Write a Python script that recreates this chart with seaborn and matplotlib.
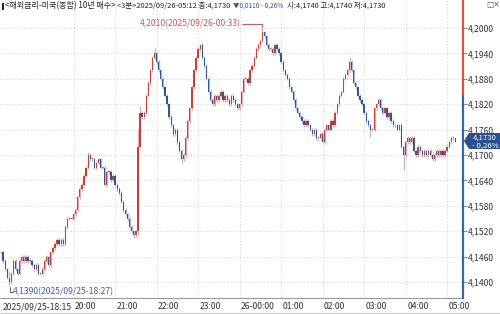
import numpy as np
import pandas as pd
import seaborn as sns
import matplotlib
matplotlib.use("Agg")
import matplotlib.pyplot as plt
import matplotlib.transforms as mtrans
from matplotlib.patches import Polygon, Rectangle
from matplotlib.lines import Line2D

# ---------------- data ----------------
closes = [
    4.147, 4.145, 4.143, 4.141, 4.140, 4.142, 4.145, 4.143, 4.142, 4.145,
    4.146, 4.145, 4.146, 4.145, 4.145, 4.144, 4.143, 4.144, 4.142, 4.142,
    4.143, 4.145, 4.146, 4.144, 4.147, 4.148, 4.149, 4.150, 4.149, 4.150,
    4.149, 4.153, 4.155, 4.155, 4.155, 4.156, 4.157, 4.160, 4.162, 4.163,
    4.165, 4.167, 4.170, 4.169, 4.169, 4.167, 4.168, 4.169, 4.167, 4.167,
    4.163, 4.166, 4.166, 4.164, 4.165, 4.163, 4.162, 4.161, 4.159, 4.157,
    4.156, 4.155, 4.153, 4.152, 4.151, 4.152, 4.172, 4.180, 4.179, 4.180,
    4.184, 4.187, 4.190, 4.193, 4.194, 4.192, 4.190, 4.188, 4.186, 4.184,
    4.182, 4.179, 4.177, 4.175, 4.176, 4.173, 4.171, 4.169, 4.170, 4.174,
    4.178, 4.181, 4.186, 4.190, 4.193, 4.195, 4.196, 4.193, 4.191, 4.188,
    4.185, 4.183, 4.182, 4.184, 4.183, 4.184, 4.185, 4.183, 4.184, 4.183,
    4.182, 4.184, 4.183, 4.182, 4.181, 4.182, 4.185, 4.188, 4.188, 4.187,
    4.190, 4.191, 4.193, 4.195, 4.196, 4.197, 4.199, 4.198, 4.196, 4.195,
    4.195, 4.194, 4.196, 4.195, 4.194, 4.192, 4.190, 4.189, 4.188, 4.186,
    4.185, 4.183, 4.181, 4.180, 4.179, 4.178, 4.177, 4.178, 4.177, 4.176,
    4.175, 4.176, 4.174, 4.174, 4.175, 4.173, 4.176, 4.177, 4.176, 4.178,
    4.177, 4.180, 4.182, 4.184, 4.185, 4.188, 4.189, 4.190, 4.192, 4.190,
    4.187, 4.186, 4.184, 4.183, 4.182, 4.180, 4.178, 4.177, 4.176, 4.176,
    4.181, 4.182, 4.183, 4.181, 4.180, 4.181, 4.179, 4.180, 4.178, 4.177,
    4.177, 4.176, 4.177, 4.172, 4.170, 4.173, 4.174, 4.173, 4.174, 4.171,
    4.170, 4.172, 4.171, 4.170, 4.171, 4.170, 4.171, 4.170, 4.169, 4.170,
    4.171, 4.170, 4.171, 4.170, 4.171, 4.172, 4.173, 4.174, 4.174, 4.173,
]
first_open = 4.147
wick_ext = 0.0004          # typical wick beyond body (unreadable detail)
high_marks = {4: 4.1425, 42: 4.1707, 66: 4.1760, 67: 4.1815, 74: 4.1953,
              96: 4.1960, 126: 4.2010, 168: 4.1930, 219: 4.1740}
low_marks = {4: 4.1390, 64: 4.1505, 66: 4.1510, 87: 4.1680, 155: 4.1728,
             178: 4.1743, 194: 4.1665, 219: 4.1730}

y_ticks = [4.1400, 4.1460, 4.1520, 4.1580, 4.1640, 4.1700,
           4.1760, 4.1820, 4.1880, 4.1940, 4.2000]
x_tick_bars = [0, 35, 55, 75, 95, 115, 135, 155, 175, 195, 215]
x_tick_labels = ["2025/09/25-18:15", "20:00", "21:00", "22:00", "23:00",
                 "26-00:00", "01:00", "02:00", "03:00", "04:00", "05:00"]
prev_close = 4.1840
last_price = 4.1730

# ---------------- frame ----------------
opens = [first_open] + closes[:-1]
n = len(closes)
df = pd.DataFrame({"bar": np.arange(n), "open": opens, "close": closes})
df["high"] = [high_marks.get(i, max(o, c) + wick_ext) for i, (o, c) in enumerate(zip(opens, closes))]
df["low"] = [low_marks.get(i, min(o, c) - wick_ext) for i, (o, c) in enumerate(zip(opens, closes))]
df["dir"] = np.where(df["close"] >= df["open"], "up", "down")

sns.set_theme(style="white")
plt.rcParams["font.family"] = ["Liberation Sans Narrow", "Noto Sans CJK KR", "DejaVu Sans"]

W, H = 500, 314
fig = plt.figure(figsize=(W / 100, H / 100), dpi=100)
fig.patch.set_facecolor("white")

def fx(px):
    return px / W

def fy(py):
    return 1 - py / H

ax_left, ax_right, ax_top, ax_bot = 0, 463, 0, 298
ax = fig.add_axes([fx(ax_left), fy(ax_bot), fx(ax_right - ax_left), (ax_bot - ax_top) / H])
ax.set_facecolor("white")

px_per_bar = 2.075
x0_px = 1.0
ax.set_xlim(-x0_px / px_per_bar, (ax_right - x0_px) / px_per_bar)
p_per_px = 0.006 / 25.4
ax.set_ylim(4.2 - (ax_bot - 28) * p_per_px, 4.2 + 28 * p_per_px)

# grid
for yt in y_ticks:
    ax.axhline(yt, color="#cfcfcf", lw=0.6, ls=(0, (1.5, 2.5)), zorder=0)
for xb in x_tick_bars[1:]:
    ax.axvline(xb, color="#cfcfcf", lw=0.6, ls=(0, (1.5, 2.5)), zorder=0)

RED, BLUE = "#d23b2e", "#2f559a"
RED_L, BLUE_L = "#eaa9a6", "#a9b9d8"

for d, col, coll in [("up", RED, RED_L), ("down", BLUE, BLUE_L)]:
    sub = df[df["dir"] == d]
    ax.vlines(sub["bar"], sub["low"], sub["high"], color=coll, lw=0.9, zorder=2)
    bh = (sub["close"] - sub["open"]).abs().clip(lower=0.00018)
    ax.bar(sub["bar"], bh, bottom=sub[["open", "close"]].min(axis=1),
           width=0.62, color=col, linewidth=0, zorder=3)

# axes styling
for s in ["top", "left", "right"]:
    ax.spines[s].set_visible(False)
ax.spines["bottom"].set_color("#9a9a9a")
ax.spines["bottom"].set_linewidth(0.8)

ax.yaxis.tick_right()
ax.set_yticks(y_ticks)
ax.set_yticklabels([f"{v:.4f}".replace(".", ",") for v in y_ticks])
ax.tick_params(axis="y", length=3, width=0.6, color="#777777", pad=0.5,
               labelsize=6.2, labelcolor="#333333", direction="out")
ax.set_xticks(x_tick_bars)
ax.set_xticklabels(x_tick_labels)
ax.tick_params(axis="x", length=8.6, width=0.6, color="#b0b0b0", pad=-5.6,
               labelsize=6.2, labelcolor="#333333", direction="out")
offset = mtrans.ScaledTranslation(1.5 / 100, 0, fig.dpi_scale_trans)
for lab in ax.get_xticklabels():
    lab.set_horizontalalignment("left")
    lab.set_transform(lab.get_transform() + offset)
ax.grid(False)

# right axis line: red above previous close, blue below
xr = ax.get_xlim()[1]
yl = ax.get_ylim()
ax.plot([xr, xr], [prev_close, yl[1]], color="#d9534a", lw=1.6, clip_on=False, zorder=5)
ax.plot([xr, xr], [yl[0], prev_close], color="#3e64a8", lw=1.6, clip_on=False, zorder=5)

# bottom strip bottom border
fig.add_artist(Line2D([0, 1], [fy(313), fy(313)], color="#c8c8c8", lw=0.8))

# high / low annotations
hi_bar = 126
ax.plot([hi_bar - 9.8, hi_bar - 0.3, hi_bar - 0.3], [4.2010, 4.2010, 4.2005],
        color="#d9534a", lw=0.7, zorder=4)
ax.text(hi_bar - 10.2, 4.2010, "4,2010(2025/09/26-00:33)", color="#d9534a",
        fontsize=6.2, ha="right", va="center")
lo_bar = 4
ax.plot([lo_bar + 0.2, lo_bar + 0.2, lo_bar + 1.6], [4.1388, 4.1376, 4.1376],
        color="#3e64a8", lw=0.7, zorder=4)
ax.text(lo_bar + 1.8, 4.1376, "4,1390(2025/09/25-18:27)", color="#3e64a8",
        fontsize=6.2, ha="left", va="center")

# current price box
box = Polygon([(fx(464), fy(141)), (fx(469), fy(133)), (fx(500), fy(133)),
               (fx(500), fy(149)), (fx(469), fy(149))], closed=True,
              facecolor="#2b4f90", edgecolor="none")
fig.add_artist(box)
fig.text(fx(485), fy(137.6), "4,1730", color="white", fontsize=5.6, ha="center", va="center")
fig.text(fx(485), fy(145.2), "- 0,26%", color="white", fontsize=5.6, ha="center", va="center")

# header (each piece fitted to its span in the reference)
fig.add_artist(Rectangle((fx(2), fy(10)), fx(2), 7 / H, facecolor="#222222", edgecolor="none"))
hdr_font = ["Liberation Sans Narrow", "Noto Sans CJK KR", "DejaVu Sans"]
header_parts = [
    ("<해외금리-미국(종합) 10년 매수>", 5, 115, "#222222"),
    ("<3분>2025/09/26-05:12 종:4,1730", 117, 230, "#222222"),
    ("▼0,0110 - 0,26%", 233, 283, "#2f559a"),
    ("시:4,1740 고:4,1740 저:4,1730", 287, 386, "#222222"),
]
renderer = fig.canvas.get_renderer()
for txt, x_a, x_b, col in header_parts:
    t = fig.text(fx(x_a), fy(6), txt, fontsize=6.0, color=col, va="center",
                 ha="left", family=hdr_font)
    w = t.get_window_extent(renderer).width
    fs = min(6.6, 6.0 * (x_b - x_a) / w)
    t.set_fontsize(fs)
fig.text(fx(486), fy(5), "□×", fontsize=5.5, color="#555555", va="center", ha="left",
         family=["DejaVu Sans"])

fig.savefig("out.png", dpi=100, facecolor="white")
